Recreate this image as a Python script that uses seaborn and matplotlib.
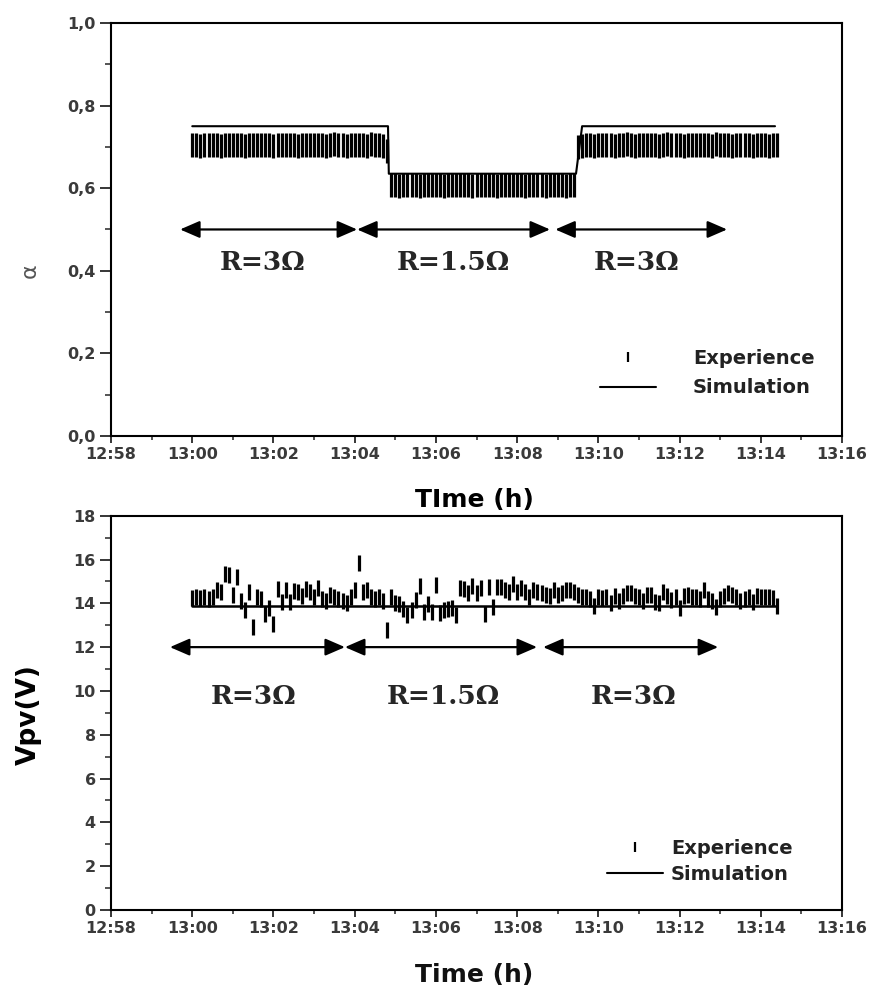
import numpy as np
import matplotlib
matplotlib.use("Agg")
import matplotlib.pyplot as plt
from matplotlib.lines import Line2D
from matplotlib.ticker import MultipleLocator
import seaborn as sns

# ---------------- data ----------------
# time axis: minutes after 12:58
tick_minutes = [0, 2, 4, 6, 8, 10, 12, 14, 16, 18]
tick_labels = ["12:58", "13:00", "13:02", "13:04", "13:06", "13:08",
               "13:10", "13:12", "13:14", "13:16"]
alpha_ticks = [0.0, 0.2, 0.4, 0.6, 0.8, 1.0]
alpha_tick_labels = ["0,0", "0,2", "0,4", "0,6", "0,8", "1,0"]
vpv_ticks = [0, 2, 4, 6, 8, 10, 12, 14, 16, 18]

# measurement sampling: starts 13:00, one sample every 6 s
sample_start = 2.0
sample_step = 0.1
n_samples = 145

# duty cycle alpha, experience
alpha_exp_r3_a = [0.704, 0.704, 0.703, 0.704, 0.705, 0.704, 0.704, 0.703, 0.704, 0.704,
                  0.705, 0.704, 0.704, 0.703, 0.704, 0.704, 0.705, 0.704, 0.704, 0.704,
                  0.703, 0.704, 0.705, 0.704, 0.704, 0.704, 0.703, 0.704, 0.704, 0.705,
                  0.704, 0.704, 0.704, 0.703, 0.704, 0.707, 0.704, 0.704, 0.703, 0.704,
                  0.704, 0.705, 0.704, 0.703, 0.707, 0.704, 0.704, 0.703]
alpha_exp_step_down = [0.690]
alpha_exp_r15 = [0.607, 0.607, 0.606, 0.607, 0.608, 0.607, 0.607, 0.606, 0.607, 0.607,
                 0.608, 0.607, 0.607, 0.606, 0.607, 0.607, 0.608, 0.607, 0.607, 0.607,
                 0.606, 0.607, 0.608, 0.607, 0.607, 0.607, 0.606, 0.607, 0.607, 0.608,
                 0.607, 0.607, 0.607, 0.606, 0.607, 0.608, 0.607, 0.607, 0.606, 0.607,
                 0.607, 0.608, 0.607, 0.606, 0.607, 0.607]
alpha_exp_r3_b = [0.700, 0.702, 0.704, 0.704, 0.703, 0.704, 0.705, 0.704, 0.704, 0.703,
                  0.704, 0.704, 0.707, 0.704, 0.703, 0.704, 0.704, 0.705, 0.704, 0.704,
                  0.703, 0.704, 0.707, 0.704, 0.704, 0.704, 0.703, 0.704, 0.704, 0.705,
                  0.704, 0.704, 0.704, 0.703, 0.707, 0.704, 0.704, 0.704, 0.703, 0.704,
                  0.704, 0.705, 0.704, 0.703, 0.704, 0.704, 0.704, 0.703, 0.704, 0.704]

# duty cycle alpha, simulation
alpha_sim_t = [2.0, 6.82, 6.84, 11.45, 11.6, 16.35]
alpha_sim = [0.75, 0.75, 0.635, 0.635, 0.75, 0.75]

# PV voltage, experience
vpv_exp = [14.25, 14.3, 14.25, 14.3, 14.2, 14.3, 14.6, 14.5, 15.35, 15.3,
           14.4, 15.2, 14.1, 13.7, 14.5, 12.9, 14.3, 14.2, 13.5, 13.8,
           13.05, 14.65, 14.05, 14.6, 14.05, 14.55, 14.5, 14.35, 14.65, 14.5,
           14.3, 14.7, 14.2, 14.1, 14.4, 14.3, 14.2, 14.1, 14.0, 14.3,
           14.6, 15.85, 14.5, 14.6, 14.3, 14.2, 14.3, 14.1, 12.8, 14.3,
           14.0, 13.95, 13.75, 13.45, 13.7, 14.15, 14.8, 13.6, 13.95, 13.6,
           14.85, 13.55, 13.7, 13.75, 13.8, 13.45, 14.7, 14.65, 14.45, 14.8,
           14.45, 14.7, 13.5, 14.75, 13.85, 14.75, 14.75, 14.6, 14.5, 14.9,
           14.5, 14.7, 14.5, 14.3, 14.6, 14.5, 14.45, 14.4, 14.35, 14.6,
           14.4, 14.45, 14.6, 14.6, 14.5, 14.4, 14.3, 14.3, 14.2, 13.9,
           14.3, 14.25, 14.3, 14.0, 14.35, 14.1, 14.35, 14.45, 14.45, 14.35,
           14.3, 14.1, 14.4, 14.4, 14.05, 14.0, 14.5, 14.35, 14.15, 14.3,
           13.8, 14.35, 14.4, 14.3, 14.3, 14.2, 14.6, 14.2, 14.1, 13.85,
           14.2, 14.35, 14.45, 14.4, 14.3, 14.1, 14.2, 14.3, 14.05, 14.35,
           14.3, 14.3, 14.3, 14.25, 13.9]
vpv_sim_t = [2.0, 16.38]
vpv_sim = [13.9, 13.9]

# load-resistance periods (annotations)
region_labels = ["R=3Ω", "R=1.5Ω", "R=3Ω"]
alpha_arrow_start = [1.70, 6.06, 10.94]
alpha_arrow_end = [6.06, 10.81, 15.17]
alpha_arrow_y = 0.5
alpha_text_x = [3.72, 8.42, 12.93]
alpha_text_y = 0.421
vpv_arrow_start = [1.45, 5.76, 10.64]
vpv_arrow_end = [5.76, 10.49, 14.95]
vpv_arrow_y = 12.0
vpv_text_x = [3.50, 8.18, 12.86]
vpv_text_y = 9.73

t_exp = sample_start + sample_step * np.arange(n_samples)
alpha_exp = alpha_exp_r3_a + alpha_exp_step_down + alpha_exp_r15 + alpha_exp_r3_b

# ---------------- style ----------------
sns.set_style("white")
plt.rcParams["font.family"] = ["DejaVu Sans"]

fig = plt.figure(figsize=(8.75, 9.94), dpi=100)
ax1 = fig.add_axes([0.1269, 0.5614, 0.8354, 0.4155])
ax2 = fig.add_axes([0.1269, 0.0845, 0.8354, 0.3967])

tick_color = "#3a3a3a"


def style_axes(ax):
    for sp in ax.spines.values():
        sp.set_visible(True)
        sp.set_color("black")
        sp.set_linewidth(1.5)
    ax.set_xlim(0, 18)
    ax.set_xticks(tick_minutes)
    ax.set_xticklabels(tick_labels)
    ax.xaxis.set_minor_locator(MultipleLocator(1))
    ax.tick_params(axis="x", which="major", direction="out", length=5, width=1.3,
                   bottom=True, top=False, labelsize=11.5, labelcolor=tick_color, pad=3)
    ax.tick_params(axis="x", which="minor", direction="out", length=3, width=1.1,
                   bottom=True, top=False)
    ax.tick_params(axis="y", which="major", direction="out", length=8, width=1.3,
                   left=True, right=False, labelsize=11.5, labelcolor=tick_color, pad=3)
    ax.tick_params(axis="y", which="minor", direction="out", length=4, width=1.1,
                   left=True, right=False)
    for lab in ax.get_xticklabels() + ax.get_yticklabels():
        lab.set_fontweight("bold")
    ax.grid(False)


def draw_arrows(ax, starts, ends, y):
    for s, e in zip(starts, ends):
        ax.annotate("", xy=(e, y), xytext=(s, y),
                    arrowprops=dict(arrowstyle="<|-|>,head_length=0.6,head_width=0.26",
                                    lw=1.6, color="black", shrinkA=0, shrinkB=0,
                                    mutation_scale=20))


# ---------------- top: alpha ----------------
sns.scatterplot(x=t_exp, y=alpha_exp, marker="|", s=300, linewidth=2.3,
                color="black", ax=ax1, legend=False)
sns.lineplot(x=alpha_sim_t, y=alpha_sim, color="black", lw=1.5, estimator=None,
             ax=ax1, legend=False)
ax1.set_ylim(0, 1.0)
ax1.set_yticks(alpha_ticks)
ax1.set_yticklabels(alpha_tick_labels)
ax1.yaxis.set_minor_locator(MultipleLocator(0.1))
style_axes(ax1)
draw_arrows(ax1, alpha_arrow_start, alpha_arrow_end, alpha_arrow_y)
for x, lab in zip(alpha_text_x, region_labels):
    ax1.text(x, alpha_text_y, lab, ha="center", va="center", fontsize=19,
             fontweight="bold", family="DejaVu Serif")
ax1.set_xlabel("TIme (h)", fontsize=18, fontweight="bold", color="black")
ax1.xaxis.set_label_coords(0.497, -0.125)
ax1.set_ylabel("α", fontsize=16, color="#555555")
ax1.yaxis.set_label_coords(-0.097, 0.40)

h_exp = Line2D([], [], marker="|", linestyle="None", color="black",
               markersize=7, markeredgewidth=1.6)
h_sim = Line2D([], [], color="black", lw=1.5)
leg1 = ax1.legend([h_exp, h_sim], ["Experience", "Simulation"], frameon=False,
                  loc="upper left", bbox_to_anchor=(0.655, 0.235), fontsize=14,
                  handlelength=2.9, handletextpad=1.9, labelspacing=0.55, borderpad=0)
for t in leg1.get_texts():
    t.set_fontweight("bold")
    t.set_color("#222222")

# ---------------- bottom: Vpv ----------------
sns.scatterplot(x=t_exp, y=vpv_exp, marker="|", s=120, linewidth=2.3,
                color="black", ax=ax2, legend=False)
sns.lineplot(x=vpv_sim_t, y=vpv_sim, color="black", lw=1.8, estimator=None,
             ax=ax2, legend=False)
ax2.set_ylim(0, 18)
ax2.set_yticks(vpv_ticks)
ax2.yaxis.set_minor_locator(MultipleLocator(1))
style_axes(ax2)
draw_arrows(ax2, vpv_arrow_start, vpv_arrow_end, vpv_arrow_y)
for x, lab in zip(vpv_text_x, region_labels):
    ax2.text(x, vpv_text_y, lab, ha="center", va="center", fontsize=19,
             fontweight="bold", family="DejaVu Serif")
ax2.set_xlabel("Time (h)", fontsize=18, fontweight="bold", color="#111111")
ax2.xaxis.set_label_coords(0.497, -0.135)
ax2.set_ylabel("Vpv(V)", fontsize=19, fontweight="bold", color="black")
ax2.yaxis.set_label_coords(-0.094, 0.495)

h_exp2 = Line2D([], [], marker="|", linestyle="None", color="black",
                markersize=7, markeredgewidth=1.6)
h_sim2 = Line2D([], [], color="black", lw=1.5)
leg2 = ax2.legend([h_exp2, h_sim2], ["Experience", "Simulation"], frameon=False,
                  loc="upper left", bbox_to_anchor=(0.665, 0.205), fontsize=14,
                  handlelength=2.9, handletextpad=0.4, labelspacing=0.35, borderpad=0)
for t in leg2.get_texts():
    t.set_fontweight("bold")
    t.set_color("#222222")

fig.savefig("out.png", dpi=100)
